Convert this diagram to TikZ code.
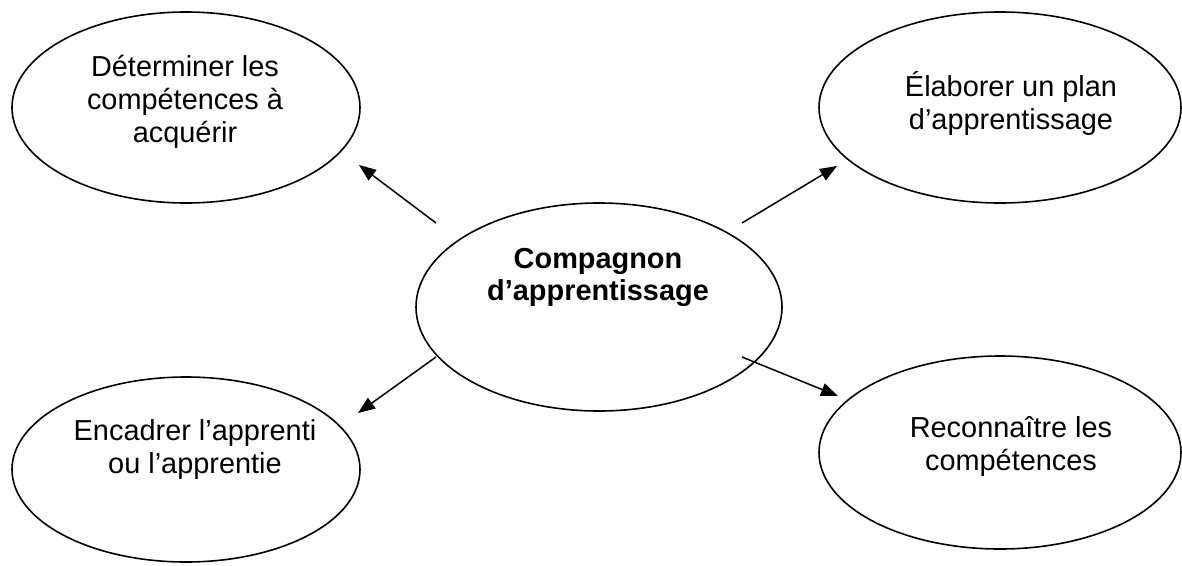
\documentclass[tikz,border=0pt]{standalone}
\usepackage{fontspec}
\setmainfont{Liberation Sans}
\usetikzlibrary{shapes.geometric,arrows.meta}
\begin{document}
\begin{tikzpicture}[x=1pt,y=-1pt,
  oval/.style={draw,ellipse,line width=1.6pt,inner sep=0pt,outer sep=0pt},
  label text/.style={align=center,font=\fontsize{28.9pt}{33pt}\selectfont,inner sep=0pt},
  conn/.style={line width=1.5pt,-{Triangle[length=17pt,width=13pt]}}]
\useasboundingbox (0,0) rectangle (1182,565);
% ellipses
\node[oval,minimum width=348pt,minimum height=191pt] (tl) at (186,107.5) {};
\node[oval,minimum width=362pt,minimum height=191pt] (tr) at (1000,107.5) {};
\node[oval,minimum width=366pt,minimum height=208pt] (c) at (599,307) {};
\node[oval,minimum width=348pt,minimum height=185pt] (bl) at (186,469.5) {};
\node[oval,minimum width=362pt,minimum height=193pt] (br) at (1000,452.5) {};
% texts
\node[label text] (tlt) at (185,102) {Déterminer les\\compétences à\\acquérir};
\node[label text] (trt) at (1011,103.5) {Élaborer un plan\\d’apprentissage};
\node[label text,font=\fontsize{28.9pt}{32pt}\selectfont\bfseries] (ct) at (598,277.5) {Compagnon\\d’apprentissage};
\node[label text] (blt) at (195,449.5) {Encadrer l’apprenti\\ou l’apprentie};
\node[label text] (brt) at (1011,446.5) {Reconnaître les\\compétences};
% connector ends
\coordinate (s1) at (436,223);
\coordinate (e1) at (359,165);
\coordinate (s2) at (742,223);
\coordinate (e2) at (837,166);
\coordinate (s3) at (436,357);
\coordinate (e3) at (358,413);
\coordinate (s4) at (742,357);
\coordinate (e4) at (838,396);
\draw[conn] (s1) -- (e1);
\draw[conn] (s2) -- (e2);
\draw[conn] (s3) -- (e3);
\draw[conn] (s4) -- (e4);
\end{tikzpicture}
\end{document}
